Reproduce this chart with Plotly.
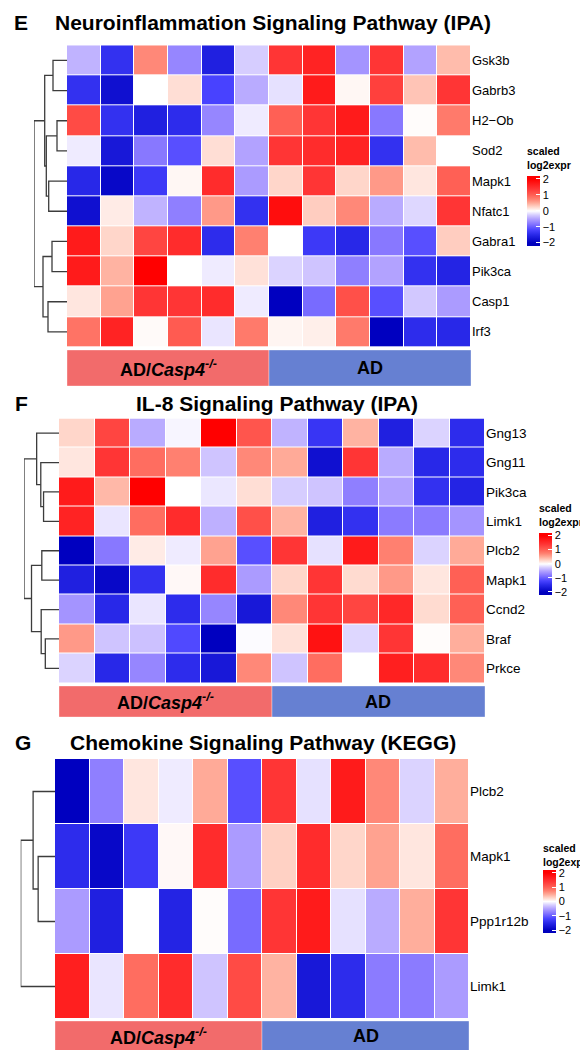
import plotly.graph_objects as go

W, H = 588, 1050

# ---------------- data ----------------
e_genes = ["Gsk3b", "Gabrb3", "H2\u2212Ob", "Sod2", "Mapk1", "Nfatc1", "Gabra1", "Pik3ca", "Casp1", "Irf3"]
e_values = [
    [-0.4, -1.4, 0.7, -0.7, -1.6, -0.25, 1.4, 1.6, -0.6, 1.4, -0.5, 0.4],
    [-1.4, -1.8, 0.0, 0.2, -1.2, -0.45, -0.15, 1.7, 0.05, 1.3, 0.35, 1.4],
    [1.2, -1.4, -1.6, -1.45, -0.7, -0.1, 1.0, 1.4, 1.7, -0.8, 0.02, 0.8],
    [-0.1, -1.7, -0.8, -1.1, 0.2, -0.5, 1.4, 1.5, 1.6, -1.4, 0.4, 0.0],
    [-1.5, -1.9, -1.3, 0.05, 1.5, -0.55, 0.25, 1.4, 0.25, 0.6, 0.15, 1.0],
    [-1.8, 0.12, -0.4, -0.75, 0.6, -1.4, 1.85, 0.3, 0.7, -0.45, -0.2, 1.4],
    [1.7, 0.25, 1.25, 1.5, -1.45, 0.75, 0.0, -1.3, -1.5, -0.8, -1.1, 0.3],
    [1.7, 0.45, 2.0, 0.0, -0.1, 0.18, -0.22, -0.3, -0.75, -0.5, -1.4, -1.55],
    [0.15, 0.55, 1.4, 1.4, 1.5, -0.1, -2.0, -0.9, 1.15, -1.1, -0.28, -0.55],
    [0.85, 1.6, 0.03, 1.05, -0.13, 0.8, 0.06, 0.1, 0.8, -2.0, -1.45, -1.5],
]
# linkage: (child a, child b, merge height); leaves 0..n-1, merges numbered n, n+1, ...
e_linkage = [(0, 1, 14), (2, 3, 10), (4, 5, 18.3), (11, 12, 20.7), (10, 13, 22.3),
             (6, 7, 15), (8, 9, 19), (15, 16, 24), (14, 17, 33)]

f_genes = ["Gng13", "Gng11", "Pik3ca", "Limk1", "Plcb2", "Mapk1", "Ccnd2", "Braf", "Prkce"]
f_values = [
    [0.25, 1.25, -0.45, -0.05, 2.0, 1.1, -0.4, -1.35, 0.45, -1.6, -0.22, -1.45],
    [0.15, 1.4, 0.9, 0.75, -0.3, 0.7, 0.5, -1.8, 1.4, -0.45, -1.5, -1.45],
    [1.7, 0.42, 2.0, 0.0, -0.12, 0.2, -0.25, -0.3, -0.75, -0.5, -1.4, -1.55],
    [1.6, -0.13, 0.9, 1.5, -0.42, 1.15, 0.45, -1.6, -1.4, -0.78, -0.78, -0.6],
    [-2.0, -0.8, 0.12, -0.1, 0.55, -1.1, 1.4, -0.15, 1.7, 0.75, -0.22, 0.5],
    [-1.6, -1.9, -1.4, 0.04, 1.5, -0.55, 0.25, 1.4, 0.22, 0.6, 0.15, 1.0],
    [-0.6, -1.5, -0.13, -1.45, -0.7, -1.7, 0.7, 1.4, 1.25, 1.55, 0.22, 1.0],
    [0.6, -0.3, -0.32, -1.15, -2.0, -0.02, 0.18, 1.8, -0.2, 1.4, 0.02, 0.48],
    [-0.22, -1.5, -0.7, -1.45, -1.7, 0.7, -0.3, 0.9, 0.0, 1.65, 1.5, 0.7],
]
f_linkage = [(2, 3, 15), (1, 9, 17.7), (0, 10, 21.7), (4, 5, 16.7), (7, 8, 13.3),
             (6, 13, 17.3), (12, 14, 26.7), (11, 15, 34)]

g_genes = ["Plcb2", "Mapk1", "Ppp1r12b", "Limk1"]
g_values = [
    [-2.0, -0.75, 0.15, -0.1, 0.5, -1.1, 1.4, -0.15, 1.7, 0.7, -0.22, 0.48],
    [-1.45, -1.9, -1.3, 0.04, 1.5, -0.55, 0.28, 1.5, 0.25, 0.55, 0.15, 0.9],
    [-0.55, -1.6, 0.0, -1.55, 0.02, -0.9, 1.4, 1.7, -0.15, -0.45, 0.48, 1.4],
    [1.65, -0.13, 0.9, 1.5, -0.3, 1.2, 0.45, -1.7, -1.45, -0.78, -0.78, -0.55],
]
g_linkage = [(1, 2, 16.7), (0, 4, 21.7), (5, 3, 34)]

group_labels = ["<b>AD/<i>Casp4</i><sup><i>-/-</i></sup></b>", "<b>AD</b>"]
panel_titles = ["Neuroinflammation Signaling Pathway (IPA)", "IL-8 Signaling Pathway (IPA)",
                "Chemokine Signaling Pathway (KEGG)"]
panel_letters = ["E", "F", "G"]
legend_title = "<b>scaled<br>log2expr</b>"
legend_ticks = [-2, -1, 0, 1, 2]

# ---------------- styling ----------------
CMIN, CMAX = -2.2, 2.2
stops = [(-2.2, (0, 0, 185)), (-2.0, (0, 0, 192)), (-1.5, (40, 40, 232)), (-1.2, (72, 66, 255)),
         (-0.8, (136, 120, 255)), (-0.5, (178, 162, 255)), (-0.25, (214, 205, 255)),
         (0.0, (255, 255, 255)), (0.25, (255, 214, 202)), (0.5, (255, 170, 152)),
         (0.75, (255, 128, 112)), (1.0, (255, 96, 85)), (1.4, (255, 53, 53)),
         (2.0, (255, 0, 0)), (2.2, (255, 0, 0))]
colorscale = [[(v - CMIN) / (CMAX - CMIN), "rgb(%d,%d,%d)" % c] for v, c in stops]

FONT = "Arial, Liberation Sans, Helvetica, sans-serif"
RED_GRP = "#F26B6B"
BLUE_GRP = "#6680D2"


def fx(p):
    return p / W


def fy(p):
    return 1 - p / H


panels = [
    dict(genes=e_genes, values=e_values, link=e_linkage, hx=(59, 463), hy=(37.3, 339),
         dleft=26, bar=(342, 378), title_x=265, title_y=15, letter_xy=(13, 15),
         lab_size=13, cb_x=519, cb_top=167.8, cb_len=70.4, lt_y=149.5),
    dict(genes=f_genes, values=f_values, link=f_linkage, hx=(51, 477), hy=(410.5, 675),
         dleft=16, bar=(678, 709), title_x=269, title_y=395, letter_xy=(13, 395),
         lab_size=13.5, cb_x=531, cb_top=524.7, cb_len=62.3, lt_y=506.5),
    dict(genes=g_genes, values=g_values, link=g_linkage, hx=(47, 461), hy=(751, 1011),
         dleft=12.7, bar=(1013, 1043), title_x=255, title_y=734, letter_xy=(15, 734),
         lab_size=13.5, cb_x=535, cb_top=862, cb_len=62.5, lt_y=846.5),
]

fig = go.Figure()
layout = dict(width=W, height=H, margin=dict(l=0, r=0, t=0, b=0),
              paper_bgcolor="white", plot_bgcolor="white",
              font=dict(family=FONT, color="black"), showlegend=False)
annotations = []
shapes = []

for i, p in enumerate(panels):
    n = len(p["genes"])
    ncol = len(p["values"][0])
    hx_i = 2 * i + 1
    dx_i = 2 * i + 2
    hx_name = "x" if hx_i == 1 else "x%d" % hx_i
    hy_name = "y" if hx_i == 1 else "y%d" % hx_i
    dx_name = "x%d" % dx_i
    ca = "coloraxis" if i == 0 else "coloraxis%d" % (i + 1)

    fig.add_trace(go.Heatmap(z=p["values"], x=list(range(ncol)), y=list(range(n)),
                             coloraxis=ca, xgap=1, ygap=1, hoverinfo="skip",
                             xaxis=hx_name, yaxis=hy_name))

    # dendrogram from linkage
    pos = {k: float(k) for k in range(n)}
    hgt = {k: 0.0 for k in range(n)}
    xs, ys = [], []
    maxh = 0
    for j, (a, b, h) in enumerate(p["link"]):
        xs += [hgt[a], h, h, hgt[b], None]
        ys += [pos[a], pos[a], pos[b], pos[b], None]
        pos[n + j] = (pos[a] + pos[b]) / 2
        hgt[n + j] = h
        maxh = max(maxh, h)
    fig.add_trace(go.Scatter(x=xs, y=ys, mode="lines", line=dict(color="#3c3c3c", width=1.3),
                             hoverinfo="skip", xaxis=dx_name, yaxis=hy_name))

    layout["xaxis" if hx_i == 1 else "xaxis%d" % hx_i] = dict(
        domain=[fx(p["hx"][0]), fx(p["hx"][1])], range=[-0.5, ncol - 0.5], anchor=hy_name,
        showticklabels=False, showgrid=False, zeroline=False, ticks="", showline=False)
    layout["yaxis" if hx_i == 1 else "yaxis%d" % hx_i] = dict(
        domain=[fy(p["hy"][1]), fy(p["hy"][0])], range=[n - 0.5, -0.5], anchor=hx_name,
        side="right", tickvals=list(range(n)), ticktext=p["genes"], ticks="",
        showgrid=False, zeroline=False, showline=False,
        tickfont=dict(size=p["lab_size"], family=FONT, color="black"))
    layout["xaxis%d" % dx_i] = dict(
        domain=[fx(p["dleft"]), fx(p["hx"][0])], range=[maxh, 0], anchor=hy_name,
        visible=False, showgrid=False, zeroline=False)

    layout[ca] = dict(
        colorscale=colorscale, cmin=CMIN, cmax=CMAX,
        colorbar=dict(x=fx(p["cb_x"]), xanchor="left", y=fy(p["cb_top"]), yanchor="top",
                      len=p["cb_len"], lenmode="pixels", thickness=13, thicknessmode="pixels",
                      ticks="inside", ticklen=4, tickcolor="white", tickwidth=1,
                      tickvals=legend_ticks, outlinewidth=0, xpad=0, ypad=0,
                      tickfont=dict(size=11, family=FONT, color="black")))

    annotations.append(dict(x=fx(p["cb_x"]) - 0.002, y=fy(p["lt_y"]), xref="paper", yref="paper",
                            xanchor="left", yanchor="middle", align="left", showarrow=False,
                            borderpad=0, text=legend_title, font=dict(size=10.5, family=FONT)))

    # titles
    annotations.append(dict(x=fx(p["title_x"]), y=fy(p["title_y"]), xref="paper", yref="paper",
                            xanchor="center", yanchor="middle", showarrow=False,
                            text="<b>%s</b>" % panel_titles[i], font=dict(size=21, family=FONT)))
    annotations.append(dict(x=fx(p["letter_xy"][0]), y=fy(p["letter_xy"][1]), xref="paper",
                            yref="paper", xanchor="center", yanchor="middle", showarrow=False,
                            text="<b>%s</b>" % panel_letters[i], font=dict(size=21, family=FONT)))

    # group annotation bar
    x0, x1 = p["hx"]
    xm = (x0 + x1) / 2
    b0, b1 = p["bar"]
    for (a, b, col, lab) in [(x0, xm, RED_GRP, group_labels[0]), (xm, x1, BLUE_GRP, group_labels[1])]:
        shapes.append(dict(type="rect", xref="paper", yref="paper", x0=fx(a), x1=fx(b),
                           y0=fy(b1), y1=fy(b0), fillcolor=col,
                           line=dict(color="rgba(255,255,255,0.35)", width=1), layer="above"))
        annotations.append(dict(x=fx((a + b) / 2), y=fy((b0 + b1) / 2), xref="paper", yref="paper",
                                xanchor="center", yanchor="middle", showarrow=False, text=lab,
                                font=dict(size=18, family=FONT, color="black")))

layout["annotations"] = annotations
layout["shapes"] = shapes
fig.update_layout(**layout)
fig.write_html("out.html")
